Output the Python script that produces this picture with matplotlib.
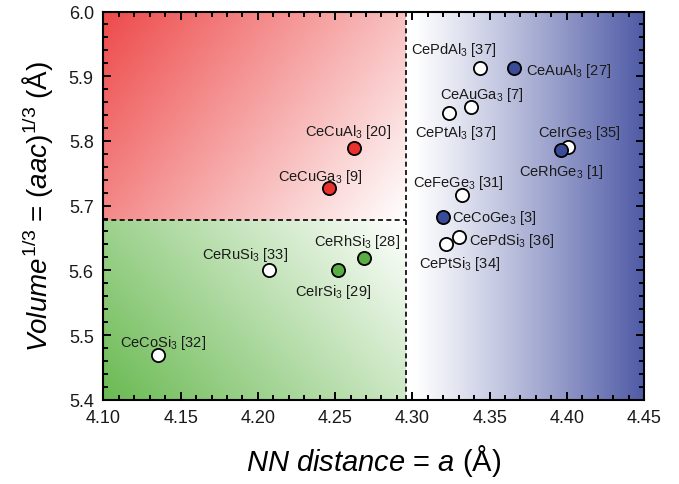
import numpy as np
import matplotlib
matplotlib.use("Agg")
import matplotlib.pyplot as plt
from matplotlib.ticker import MultipleLocator, FormatStrFormatter

plt.rcParams['font.family'] = ['Liberation Sans', 'DejaVu Sans']
plt.rcParams['mathtext.fontset'] = 'custom'
plt.rcParams['mathtext.rm'] = 'Liberation Sans'
plt.rcParams['mathtext.it'] = 'Liberation Sans:italic'
plt.rcParams['mathtext.bf'] = 'Liberation Sans:bold'

# ---- data ----
compounds = ["CeCuAl3 [20]", "CeCuGa3 [9]", "CePdAl3 [37]", "CeAuAl3 [27]", "CeAuGa3 [7]",
             "CePtAl3 [37]", "CeIrGe3 [35]", "CeRhGe3 [1]", "CeFeGe3 [31]", "CeCoGe3 [3]",
             "CePdSi3 [36]", "CePtSi3 [34]", "CeRuSi3 [33]", "CeRhSi3 [28]", "CeIrSi3 [29]",
             "CeCoSi3 [32]"]
nn_distance = [4.262, 4.246, 4.344, 4.366, 4.338, 4.324, 4.401, 4.396, 4.332, 4.320,
               4.330, 4.322, 4.207, 4.269, 4.252, 4.135]
volume_cbrt = [5.789, 5.727, 5.912, 5.913, 5.853, 5.843, 5.791, 5.786, 5.717, 5.683,
               5.652, 5.641, 5.600, 5.619, 5.600, 5.469]
group = ["red", "red", "none", "blue", "none", "none", "none", "blue", "none", "blue",
         "none", "none", "none", "green", "green", "none"]
x_boundary = 4.296
y_boundary = 5.677

# ---- styles ----
fill_colors = {"red": "#e8322b", "green": "#5aad45", "blue": "#3a4c98", "none": "white"}
# label offsets (pixels) and alignment
label_offsets = [(-6, 13), (-9, 8), (-27, 15), (12, -6), (11, 9),
                 (6, -23), (11, 11), (1, -25), (-3, 9), (9, -4),
                 (10, -7), (13, -23), (-24, 12), (-7, 13), (-5, -25),
                 (5, 9)]
label_ha = ["center", "center", "center", "left", "center",
            "center", "center", "center", "center", "left",
            "left", "center", "center", "center", "center",
            "center"]

def fmt(name):
    formula, ref = name.split(" ")
    return formula[:-1] + r"$_{3}$ " + ref

fig = plt.figure(figsize=(6.79, 4.85), dpi=100)
ax = fig.add_axes([0.1524, 0.1738, 0.7961, 0.8004])
xmin, xmax, ymin, ymax = 4.10, 4.45, 5.40, 6.00
ax.set_xlim(xmin, xmax)
ax.set_ylim(ymin, ymax)

# ---- background gradients ----
n = 200
u = np.linspace(0, 1, n)[None, :]   # left -> right
v = np.linspace(0, 1, n)[:, None]   # top -> bottom

def grad_img(color, t):
    c = np.array(matplotlib.colors.to_rgb(color))
    t = np.clip(t, 0, 1)[..., None]
    return 1 - t * (1 - c)

# red: strongest top-left
t_red = 1 - (0.65 * u + 0.35 * v)
ax.imshow(grad_img("#ee4a4a", t_red), extent=[xmin, x_boundary, y_boundary, ymax],
          origin="upper", aspect="auto", zorder=0, interpolation="bilinear")
# green: strongest bottom-left
t_green = 1 - (0.65 * u + 0.35 * (1 - v))
ax.imshow(grad_img("#6aba52", t_green), extent=[xmin, x_boundary, ymin, y_boundary],
          origin="upper", aspect="auto", zorder=0, interpolation="bilinear")
# blue: white at left -> blue at right
t_blue = np.clip((u - 0.03) / 0.97, 0, 1) ** 1.1 * np.ones_like(v)
ax.imshow(grad_img("#4f5ba6", t_blue), extent=[x_boundary, xmax, ymin, ymax],
          origin="upper", aspect="auto", zorder=0, interpolation="bilinear")

# dashed boundaries
ax.axvline(x_boundary, color="black", ls=(0, (3, 2)), lw=1.2, zorder=1)
ax.plot([xmin, x_boundary], [y_boundary, y_boundary], color="black",
        ls=(0, (3, 2)), lw=1.2, zorder=1)

# ---- points ----
for name, x, y, g, (dx, dy), ha in zip(compounds, nn_distance, volume_cbrt, group,
                                       label_offsets, label_ha):
    ax.plot(x, y, "o", ms=9.5, mfc=fill_colors[g], mec="black", mew=1.3, zorder=3)
    ax.annotate(fmt(name), (x, y), xytext=(dx, dy), textcoords="offset pixels",
                ha=ha, va="baseline", fontsize=10.5, color="#1a1a1a", zorder=4)

# ---- axes styling ----
ax.xaxis.set_major_locator(MultipleLocator(0.05))
ax.xaxis.set_minor_locator(MultipleLocator(0.01))
ax.yaxis.set_major_locator(MultipleLocator(0.1))
ax.yaxis.set_minor_locator(MultipleLocator(0.02))
ax.xaxis.set_major_formatter(FormatStrFormatter("%.2f"))
ax.yaxis.set_major_formatter(FormatStrFormatter("%.1f"))
ax.tick_params(which="both", direction="in", top=True, right=True, width=1.4,
               labelsize=13, color="black", labelcolor="#1a1a1a")
ax.tick_params(which="major", length=6, pad=7)
ax.tick_params(which="minor", length=3.5)
for sp in ax.spines.values():
    sp.set_linewidth(1.5)
    sp.set_zorder(5)

ax.set_xlabel(r"$\mathit{NN\ distance}$ = $\mathit{a}$ (Å)", fontsize=21, labelpad=11)
ax.set_ylabel(r"$\mathit{Volume}^{1/3}$ = ($\mathit{aac}$)$^{1/3}$ (Å)", fontsize=20,
              labelpad=10)

fig.savefig("out.png", dpi=100)
